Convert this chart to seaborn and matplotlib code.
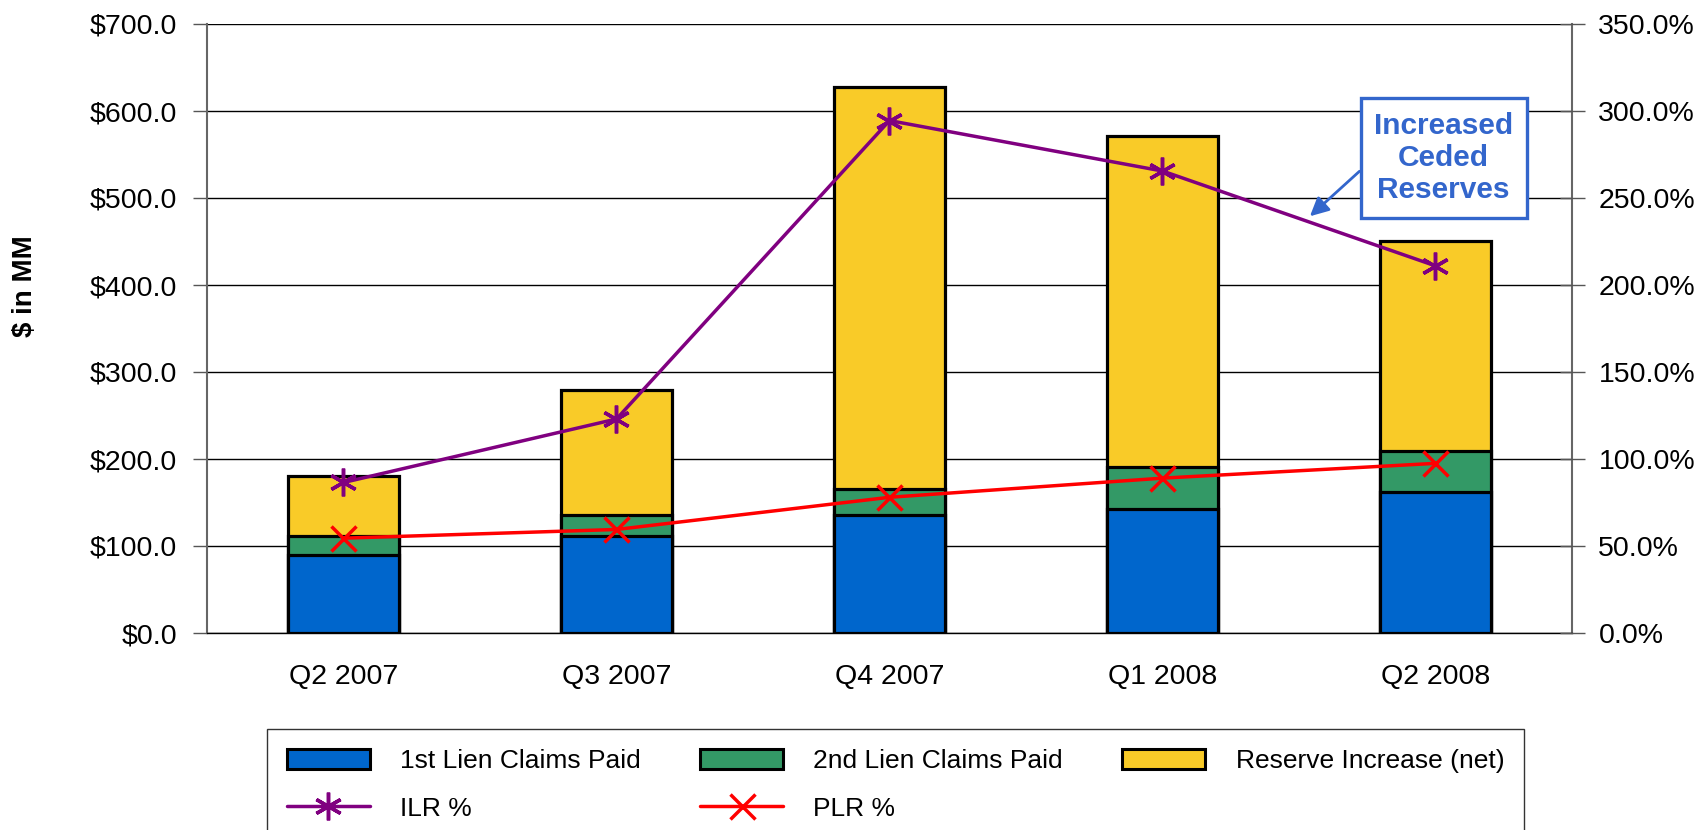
import matplotlib
matplotlib.use("Agg")
import matplotlib.pyplot as plt
from matplotlib.lines import Line2D
from matplotlib.patches import Patch
import numpy as np
import pandas as pd
import seaborn as sns

# Data
quarters = ["Q2 2007", "Q3 2007", "Q4 2007", "Q1 2008", "Q2 2008"]
first_lien = [90, 112, 136, 143, 162]
second_lien = [21, 24, 30, 48, 47]
reserve_increase = [70, 143, 462, 380, 242]
ilr_pct = [86.5, 123.0, 294.5, 265.5, 211.0]
plr_pct = [54.5, 59.5, 78.0, 89.0, 97.5]

blue = "#0066CC"
green = "#339966"
yellow = "#F9CB28"
purple = "#800080"
red = "#FF0000"
note_blue = "#3366CC"

sns.set_theme(style="white")
plt.rcParams["font.family"] = ["Liberation Sans", "DejaVu Sans"]
plt.rcParams["font.size"] = 20
for key in ["text.color", "axes.labelcolor", "xtick.labelcolor", "ytick.labelcolor"]:
    plt.rcParams[key] = "black"

df = pd.DataFrame({"quarter": quarters, "first": first_lien,
                   "second": second_lien, "reserve": reserve_increase})
df["upto_second"] = df["first"] + df["second"]
df["total"] = df["upto_second"] + df["reserve"]

fig = plt.figure(figsize=(17.06, 8.30), dpi=100)
ax = fig.add_axes([207 / 1706, 1 - 633 / 830, (1572 - 207) / 1706, (633 - 24) / 830])

# Stacked bars: draw cumulative heights, tallest first
bar_kw = dict(width=0.41, edgecolor="black", linewidth=2.3, saturation=1, ax=ax)
sns.barplot(data=df, x="quarter", y="total", color=yellow, **bar_kw)
sns.barplot(data=df, x="quarter", y="upto_second", color=green, **bar_kw)
sns.barplot(data=df, x="quarter", y="first", color=blue, **bar_kw)

ax.set_xlim(-0.5, len(quarters) - 0.5)
ax.set_ylim(0, 700)
ax.set_yticks(np.arange(0, 701, 100))
ax.set_yticklabels([f"${v:.1f}" for v in np.arange(0, 701, 100)])
ax.set_xticks(np.arange(-0.5, len(quarters), 1), minor=True)
ax.set_xlabel("")
ax.set_ylabel("")
ax.yaxis.grid(True, color="black", linewidth=1)
ax.set_axisbelow(True)
ax.tick_params(axis="x", which="major", length=0, pad=22, labelsize=20.5, labelcolor="black")
ax.tick_params(axis="x", which="minor", length=10, width=1, color="#555555", direction="out")
ax.tick_params(axis="y", length=10, width=1, color="#555555", direction="out", pad=11.5,
               labelsize=20.5, labelcolor="black")
for side in ["left", "right"]:
    ax.spines[side].set_color("#666666")
    ax.spines[side].set_linewidth(1.5)
ax.spines["top"].set_visible(False)
ax.spines["bottom"].set_color("black")
ax.spines["bottom"].set_linewidth(1)

# Ratio lines on the right axis
ax2 = ax.twinx()
x_pos = np.arange(len(quarters))
sns.lineplot(x=x_pos, y=ilr_pct, ax=ax2, color=purple, linewidth=2.5,
             marker=(6, 2, 0), markersize=20, markeredgewidth=2.5, markeredgecolor=purple)
sns.lineplot(x=x_pos, y=plr_pct, ax=ax2, color=red, linewidth=2.5,
             marker="x", markersize=18, markeredgewidth=2.5, markeredgecolor=red)
ax2.set_ylim(0, 350)
ax2.set_yticks(np.arange(0, 351, 50))
ax2.set_yticklabels([f"{v:.1f}%" for v in np.arange(0, 351, 50)])
ax2.tick_params(axis="y", length=18, width=1, color="#555555", direction="inout", pad=10,
                labelsize=20.5, labelcolor="black")
for s in ax2.spines.values():
    s.set_visible(False)
ax2.set_xlim(ax.get_xlim())

ax2.annotate("Increased\nCeded\nReserves", xy=(3.54, 239.5), xytext=(4.03, 273),
             ha="center", va="center", fontsize=21.5, fontweight="bold", color=note_blue,
             linespacing=1.2,
             bbox=dict(boxstyle="square,pad=0.45", fc="white", ec=note_blue, lw=2.4),
             arrowprops=dict(arrowstyle="-|>", color=note_blue, lw=2, mutation_scale=28,
                             relpos=(0, 0.5), shrinkA=0, shrinkB=0))

fig.text(25 / 1706, 1 - 286 / 830, "$ in MM", rotation=90, fontsize=20,
         fontweight="bold", ha="center", va="center")

# Legend
handles = [
    Patch(facecolor=blue, edgecolor="black", linewidth=2.2, label="1st Lien Claims Paid"),
    Line2D([0], [0], color=purple, lw=2.5, marker=(6, 2, 0), ms=20, mew=2.5, label="ILR %"),
    Patch(facecolor=green, edgecolor="black", linewidth=2.2, label="2nd Lien Claims Paid"),
    Line2D([0], [0], color=red, lw=2.5, marker="x", ms=18, mew=2.5, label="PLR %"),
    Patch(facecolor=yellow, edgecolor="black", linewidth=2.2, label="Reserve Increase (net)"),
]
leg = fig.legend(handles=handles, loc="upper left", bbox_to_anchor=(267 / 1706, 1 - 729 / 830),
                 ncol=3, fontsize=19, frameon=True, fancybox=False, edgecolor="black",
                 handlelength=3.15, handleheight=0.8, handletextpad=1.14, columnspacing=2.25,
                 borderpad=0.75, labelspacing=0.9, borderaxespad=0)
leg.get_frame().set_linewidth(1)

fig.savefig("out.png", dpi=100)
